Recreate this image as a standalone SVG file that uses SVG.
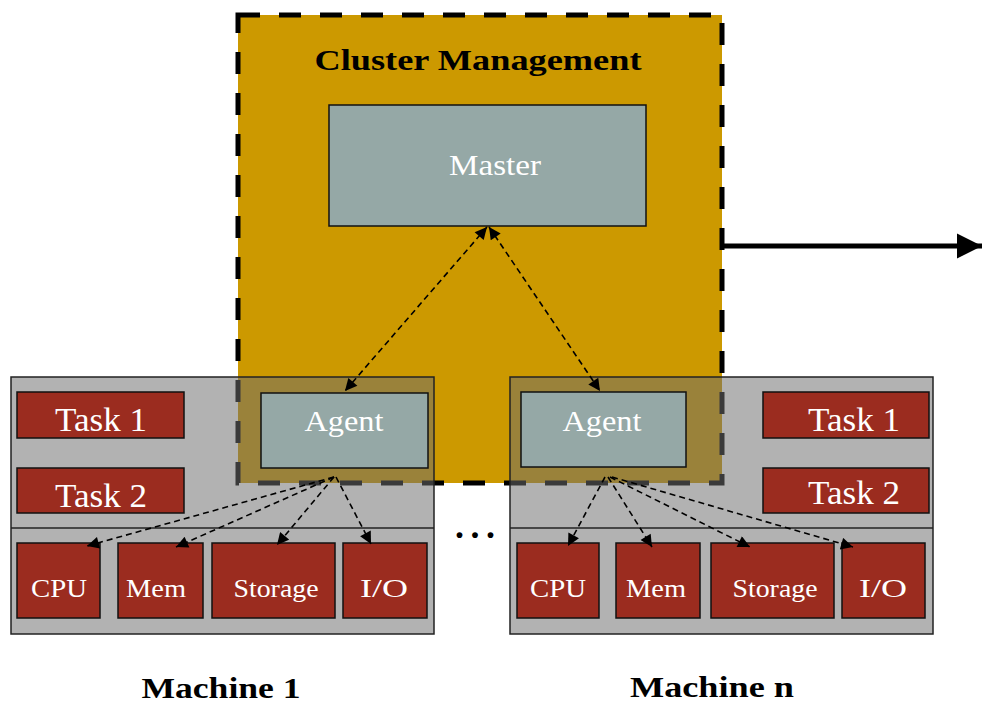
<svg xmlns="http://www.w3.org/2000/svg" width="982" height="704" viewBox="0 0 982 704">
<defs>
<style>
.serif{font-family:"Liberation Serif","DejaVu Serif",serif}
.wt{fill:#ffffff;text-anchor:middle}
.bx{stroke:#111;stroke-width:1.5}
.red{fill:#9b2c1f}
.teal{fill:#95a8a6}
.mach{fill:#6d6d6d;fill-opacity:0.53;stroke:#222;stroke-width:1.5}
.dl{fill:none;stroke:#000;stroke-width:1.6;stroke-dasharray:6 4}
</style>
<marker id="ah" viewBox="0 0 10 10" refX="10" refY="5" markerWidth="14" markerHeight="12" markerUnits="userSpaceOnUse" orient="auto-start-reverse">
<path d="M0,0 L10,5 L0,10 z" fill="#000"/>
</marker>
<marker id="bigah" viewBox="0 0 10 10" refX="10" refY="5" markerWidth="25" markerHeight="29" markerUnits="userSpaceOnUse" orient="auto">
<path d="M0,0 L10,5 L0,10 z" fill="#000"/>
</marker>
</defs>
<rect width="982" height="704" fill="#fff"/>
<g id="cluster">
<rect x="238" y="15" width="484" height="468" fill="#cc9900" stroke="#000" stroke-width="5" stroke-dasharray="22 19"/>
<text class="serif" x="478" y="70" font-size="30" font-weight="bold" text-anchor="middle" textLength="327" lengthAdjust="spacingAndGlyphs">Cluster Management</text>
</g>
<g id="master">
<rect class="teal bx" x="329" y="105" width="317" height="121"/>
<text class="serif wt" x="495" y="175" font-size="30" textLength="92" lengthAdjust="spacingAndGlyphs">Master</text>
</g>
<g id="machine1">
<rect class="mach" x="11" y="377" width="423" height="257"/>
<line x1="11" y1="528" x2="434" y2="528" stroke="#222" stroke-width="1.5"/>
</g>
<g id="machinen">
<rect class="mach" x="510" y="377" width="423" height="257"/>
<line x1="510" y1="528" x2="933" y2="528" stroke="#222" stroke-width="1.5"/>
</g>
<g id="m1-task1"><rect class="red bx" x="17" y="392" width="167" height="46"/><text class="serif wt" x="101" y="431" font-size="33" textLength="92" lengthAdjust="spacingAndGlyphs">Task 1</text></g>
<g id="m1-task2"><rect class="red bx" x="17" y="468" width="167" height="45"/><text class="serif wt" x="101" y="507" font-size="33" textLength="92" lengthAdjust="spacingAndGlyphs">Task 2</text></g>
<g id="m1-agent"><rect class="teal bx" x="261" y="393" width="167" height="75"/><text class="serif wt" x="344" y="431" font-size="30" textLength="79" lengthAdjust="spacingAndGlyphs">Agent</text></g>
<g id="m1-cpu"><rect class="red bx" x="17" y="543" width="83" height="75"/><text class="serif wt" x="59" y="597" font-size="26" textLength="56" lengthAdjust="spacingAndGlyphs">CPU</text></g>
<g id="m1-mem"><rect class="red bx" x="118" y="543" width="85" height="75"/><text class="serif wt" x="156" y="597" font-size="26" textLength="60" lengthAdjust="spacingAndGlyphs">Mem</text></g>
<g id="m1-storage"><rect class="red bx" x="212" y="543" width="123" height="75"/><text class="serif wt" x="276" y="597" font-size="26" textLength="85" lengthAdjust="spacingAndGlyphs">Storage</text></g>
<g id="m1-io"><rect class="red bx" x="343" y="543" width="84" height="75"/><text class="serif wt" x="384" y="597" font-size="26" textLength="48" lengthAdjust="spacingAndGlyphs">I/O</text></g>
<g id="mn-task1"><rect class="red bx" x="763" y="392" width="166" height="46"/><text class="serif wt" x="854" y="431" font-size="33" textLength="92" lengthAdjust="spacingAndGlyphs">Task 1</text></g>
<g id="mn-task2"><rect class="red bx" x="763" y="468" width="166" height="45"/><text class="serif wt" x="854" y="504" font-size="33" textLength="92" lengthAdjust="spacingAndGlyphs">Task 2</text></g>
<g id="mn-agent"><rect class="teal bx" x="521" y="392" width="165" height="75"/><text class="serif wt" x="602" y="431" font-size="30" textLength="79" lengthAdjust="spacingAndGlyphs">Agent</text></g>
<g id="mn-cpu"><rect class="red bx" x="517" y="543" width="82" height="75"/><text class="serif wt" x="558" y="597" font-size="26" textLength="56" lengthAdjust="spacingAndGlyphs">CPU</text></g>
<g id="mn-mem"><rect class="red bx" x="616" y="543" width="84" height="75"/><text class="serif wt" x="656" y="597" font-size="26" textLength="60" lengthAdjust="spacingAndGlyphs">Mem</text></g>
<g id="mn-storage"><rect class="red bx" x="711" y="543" width="123" height="75"/><text class="serif wt" x="775" y="597" font-size="26" textLength="85" lengthAdjust="spacingAndGlyphs">Storage</text></g>
<g id="mn-io"><rect class="red bx" x="842" y="543" width="83" height="75"/><text class="serif wt" x="883" y="597" font-size="26" textLength="48" lengthAdjust="spacingAndGlyphs">I/O</text></g>
<g id="connectors">
<line class="dl" x1="487" y1="227" x2="345" y2="391" marker-start="url(#ah)" marker-end="url(#ah)"/>
<line class="dl" x1="489" y1="227" x2="600" y2="391" marker-start="url(#ah)" marker-end="url(#ah)"/>
<line class="dl" x1="334" y1="477" x2="87" y2="546" marker-end="url(#ah)"/>
<line class="dl" x1="334" y1="477" x2="176" y2="547" marker-end="url(#ah)"/>
<line class="dl" x1="334" y1="477" x2="277" y2="545" marker-end="url(#ah)"/>
<line class="dl" x1="336" y1="477" x2="371" y2="544" marker-end="url(#ah)"/>
<line class="dl" x1="605" y1="477" x2="568" y2="546" marker-end="url(#ah)"/>
<line class="dl" x1="608" y1="477" x2="652" y2="547" marker-end="url(#ah)"/>
<line class="dl" x1="610" y1="477" x2="750" y2="547" marker-end="url(#ah)"/>
<line class="dl" x1="612" y1="477" x2="853" y2="547" marker-end="url(#ah)"/>
<line x1="722" y1="246" x2="982" y2="246" stroke="#000" stroke-width="5" marker-end="url(#bigah)"/>
</g>
<text class="serif" x="475" y="538" font-size="36" font-weight="bold" text-anchor="middle" textLength="40" lengthAdjust="spacing">. . .</text>
<text class="serif" x="221" y="698" font-size="30" font-weight="bold" text-anchor="middle" textLength="159" lengthAdjust="spacingAndGlyphs">Machine 1</text>
<text class="serif" x="712" y="697" font-size="30" font-weight="bold" text-anchor="middle" textLength="164" lengthAdjust="spacingAndGlyphs">Machine n</text>
</svg>
